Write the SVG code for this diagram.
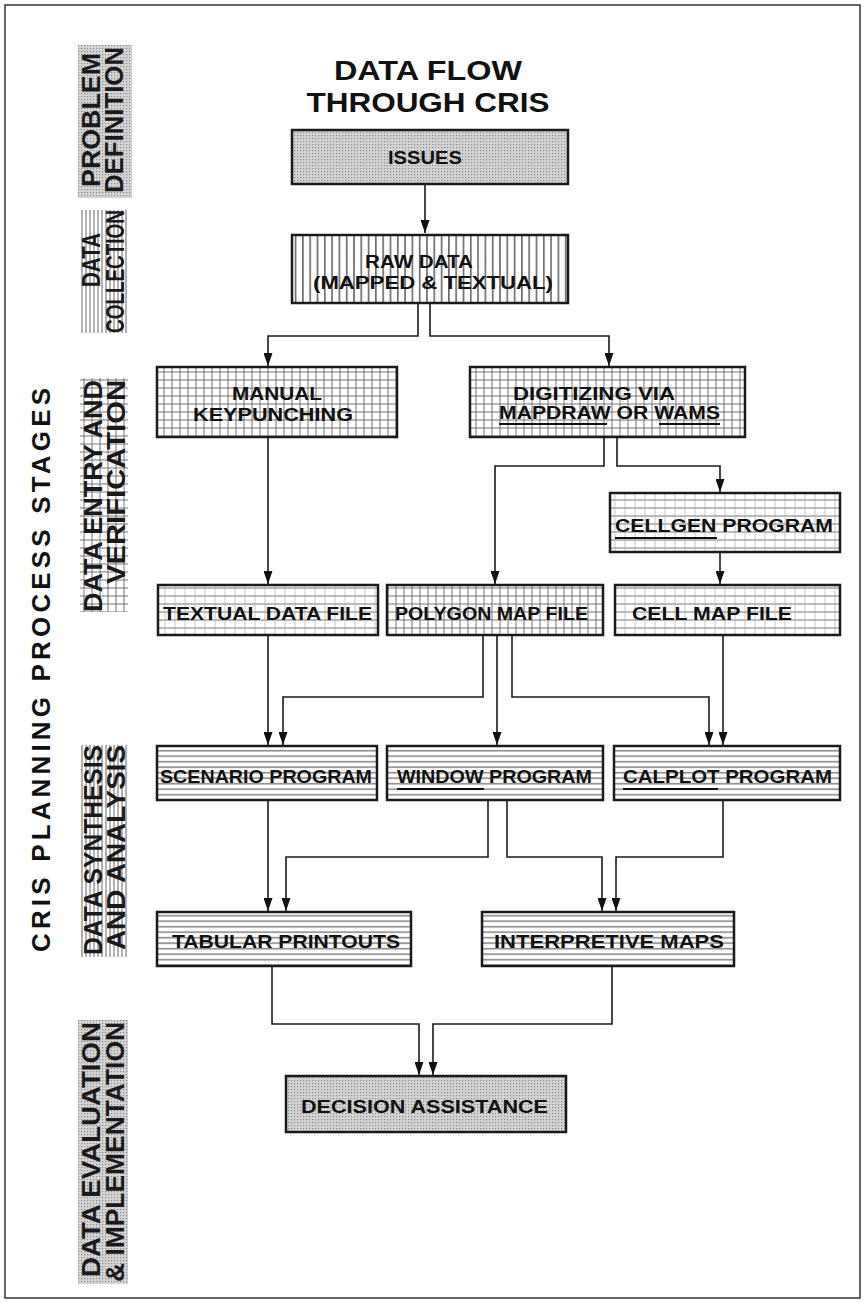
<svg xmlns="http://www.w3.org/2000/svg" width="864" height="1303" viewBox="0 0 864 1303">
<defs>
<style>
.box{stroke:#1a1a1a;stroke-width:2.5}
.bt{font-family:"Liberation Sans",Arial,sans-serif;font-weight:bold;font-size:19px;fill:#111}
.lt{font-family:"Liberation Sans",Arial,sans-serif;font-weight:bold;font-size:25px;fill:#1a1a1a}
.con{fill:none;stroke:#1a1a1a;stroke-width:1.6}
.ul{stroke:#111;stroke-width:2}
</style>
<marker id="ah" markerUnits="userSpaceOnUse" markerWidth="13" markerHeight="9" refX="13" refY="4.5" orient="auto">
<path d="M0,0 L13,4.5 L0,9 z" fill="#111"/>
</marker>
<pattern id="dots" width="3" height="3" patternUnits="userSpaceOnUse">
<rect width="3" height="3" fill="#d4d4d4"/>
<rect x="0" y="0" width="1.2" height="1.2" fill="#8a8a8a"/>
</pattern>
<pattern id="vl" width="7.3" height="10" patternUnits="userSpaceOnUse">
<rect width="7.3" height="10" fill="#fff"/>
<line x1="3.6" y1="0" x2="3.6" y2="10" stroke="#333" stroke-width="1.2"/>
</pattern>
<pattern id="grid" width="8" height="8" patternUnits="userSpaceOnUse">
<rect width="8" height="8" fill="#fff"/>
<path d="M4,0 V8 M0,4 H8" stroke="#666" stroke-width="0.9"/>
</pattern>
<pattern id="fgrid" width="10" height="8" patternUnits="userSpaceOnUse">
<rect width="10" height="8" fill="#fff"/>
<path d="M0,4 H10" stroke="#666" stroke-width="0.9"/>
<path d="M5,0 V8" stroke="#aaa" stroke-width="0.7"/>
</pattern>
<pattern id="hl" width="10" height="5.5" patternUnits="userSpaceOnUse">
<rect width="10" height="5.5" fill="#fff"/>
<line x1="0" y1="2.7" x2="10" y2="2.7" stroke="#444" stroke-width="1"/>
</pattern>
<pattern id="lvl" width="4" height="10" patternUnits="userSpaceOnUse">
<rect width="4" height="10" fill="#fff"/>
<line x1="2" y1="0" x2="2" y2="10" stroke="#555" stroke-width="0.9"/>
</pattern>
</defs>

<rect x="0" y="0" width="864" height="1303" fill="#fff"/>
<rect x="5" y="5" width="855" height="1293" fill="none" stroke="#333" stroke-width="1.5"/>

<g id="title">
<text x="428" y="80" text-anchor="middle" font-family="Liberation Sans,Arial,sans-serif" font-weight="bold" font-size="28" textLength="188" lengthAdjust="spacingAndGlyphs" fill="#111">DATA FLOW</text>
<text x="428" y="112" text-anchor="middle" font-family="Liberation Sans,Arial,sans-serif" font-weight="bold" font-size="28" textLength="243" lengthAdjust="spacingAndGlyphs" fill="#111">THROUGH CRIS</text>
</g>

<g id="stage-axis">
<text transform="translate(50,952) rotate(-90)" font-family="Liberation Sans,Arial,sans-serif" font-weight="bold" font-size="26" textLength="564" lengthAdjust="spacing" fill="#111">CRIS PLANNING PROCESS STAGES</text>
</g>

<g id="stage-problem">
<rect x="78" y="45" width="54" height="153" fill="url(#dots)"/>
<text class="lt" transform="translate(100,187) rotate(-90)" textLength="134" lengthAdjust="spacingAndGlyphs">PROBLEM</text>
<text class="lt" transform="translate(123,193) rotate(-90)" textLength="146" lengthAdjust="spacingAndGlyphs">DEFINITION</text>
</g>

<g id="stage-collection">
<rect x="80" y="210" width="48" height="123" fill="url(#lvl)"/>
<text class="lt" transform="translate(100,287) rotate(-90)" textLength="54" lengthAdjust="spacingAndGlyphs">DATA</text>
<text class="lt" transform="translate(124,333) rotate(-90)" textLength="123" lengthAdjust="spacingAndGlyphs">COLLECTION</text>
</g>

<g id="stage-entry">
<rect x="80" y="378" width="48" height="234" fill="url(#grid)"/>
<text class="lt" transform="translate(102,612) rotate(-90)" textLength="232" lengthAdjust="spacingAndGlyphs">DATA ENTRY AND</text>
<text class="lt" transform="translate(125,584) rotate(-90)" textLength="204" lengthAdjust="spacingAndGlyphs">VERIFICATION</text>
</g>

<g id="stage-synthesis">
<rect x="80" y="745" width="48" height="212" fill="url(#lvl)"/>
<text class="lt" transform="translate(102,955) rotate(-90)" textLength="210" lengthAdjust="spacingAndGlyphs">DATA SYNTHESIS</text>
<text class="lt" transform="translate(125,950) rotate(-90)" textLength="205" lengthAdjust="spacingAndGlyphs">AND ANALYSIS</text>
</g>

<g id="stage-evaluation">
<rect x="78" y="1020" width="50" height="264" fill="url(#dots)"/>
<text class="lt" transform="translate(100,1277) rotate(-90)" textLength="255" lengthAdjust="spacingAndGlyphs">DATA EVALUATION</text>
<text class="lt" transform="translate(124,1282) rotate(-90)" textLength="260" lengthAdjust="spacingAndGlyphs">&amp; IMPLEMENTATION</text>
</g>

<g id="connectors">
<path class="con" marker-end="url(#ah)" d="M425,184 V233"/>
<path class="con" marker-end="url(#ah)" d="M418,303 V336 H268 V366"/>
<path class="con" marker-end="url(#ah)" d="M430,303 V336 H609 V366"/>
<path class="con" marker-end="url(#ah)" d="M268,437 V584"/>
<path class="con" marker-end="url(#ah)" d="M604,437 V466 H495 V584"/>
<path class="con" marker-end="url(#ah)" d="M617,437 V466 H720 V492"/>
<path class="con" marker-end="url(#ah)" d="M720,552 V584"/>
<path class="con" marker-end="url(#ah)" d="M268,635 V745"/>
<path class="con" marker-end="url(#ah)" d="M483,635 V697 H283 V745"/>
<path class="con" marker-end="url(#ah)" d="M497,635 V745"/>
<path class="con" marker-end="url(#ah)" d="M512,635 V697 H709 V745"/>
<path class="con" marker-end="url(#ah)" d="M723,635 V745"/>
<path class="con" marker-end="url(#ah)" d="M268,800 V911"/>
<path class="con" marker-end="url(#ah)" d="M488,800 V857 H286 V911"/>
<path class="con" marker-end="url(#ah)" d="M507,800 V857 H602 V911"/>
<path class="con" marker-end="url(#ah)" d="M723,800 V857 H616 V911"/>
<path class="con" marker-end="url(#ah)" d="M272,966 V1024 H419 V1075"/>
<path class="con" marker-end="url(#ah)" d="M612,966 V1024 H433 V1075"/>
</g>

<g id="issues">
<rect class="box" x="292" y="130" width="276" height="54" fill="url(#dots)"/>
<text class="bt" x="425" y="164" text-anchor="middle" textLength="74" lengthAdjust="spacingAndGlyphs">ISSUES</text>
</g>

<g id="raw-data">
<rect class="box" x="292" y="235" width="276" height="68" fill="url(#vl)"/>
<text class="bt" x="419" y="268" text-anchor="middle" textLength="108" lengthAdjust="spacingAndGlyphs">RAW DATA</text>
<text class="bt" x="433" y="289" text-anchor="middle" textLength="240" lengthAdjust="spacingAndGlyphs">(MAPPED &amp; TEXTUAL)</text>
</g>

<g id="manual-keypunching">
<rect class="box" x="157" y="367" width="240" height="70" fill="url(#grid)"/>
<text class="bt" x="277" y="400" text-anchor="middle" textLength="90" lengthAdjust="spacingAndGlyphs">MANUAL</text>
<text class="bt" x="273" y="421" text-anchor="middle" textLength="160" lengthAdjust="spacingAndGlyphs">KEYPUNCHING</text>
</g>

<g id="digitizing">
<rect class="box" x="470" y="367" width="275" height="70" fill="url(#grid)"/>
<text class="bt" x="513" y="400" textLength="162" lengthAdjust="spacingAndGlyphs">DIGITIZING VIA</text>
<text class="bt" x="499" y="419" textLength="221" lengthAdjust="spacingAndGlyphs">MAPDRAW OR WAMS</text>
<line class="ul" x1="499" y1="424" x2="607" y2="424"/>
<line class="ul" x1="659" y1="424" x2="720" y2="424"/>
</g>

<g id="cellgen-program">
<rect class="box" x="610" y="493" width="230" height="59" fill="url(#fgrid)"/>
<text class="bt" x="615" y="532" textLength="218" lengthAdjust="spacingAndGlyphs">CELLGEN PROGRAM</text>
<line class="ul" x1="615" y1="538" x2="717" y2="538"/>
</g>

<g id="textual-data-file">
<rect class="box" x="158" y="585" width="220" height="50" fill="url(#fgrid)"/>
<text class="bt" x="163" y="620" textLength="209" lengthAdjust="spacingAndGlyphs">TEXTUAL DATA FILE</text>
</g>

<g id="polygon-map-file">
<rect class="box" x="387" y="585" width="216" height="50" fill="url(#grid)"/>
<text class="bt" x="395" y="620" textLength="193" lengthAdjust="spacingAndGlyphs">POLYGON MAP FILE</text>
</g>

<g id="cell-map-file">
<rect class="box" x="615" y="585" width="225" height="50" fill="url(#fgrid)"/>
<text class="bt" x="632" y="620" textLength="160" lengthAdjust="spacingAndGlyphs">CELL MAP FILE</text>
</g>

<g id="scenario-program">
<rect class="box" x="157" y="746" width="220" height="54" fill="url(#hl)"/>
<text class="bt" x="160" y="783" textLength="212" lengthAdjust="spacingAndGlyphs">SCENARIO PROGRAM</text>
</g>

<g id="window-program">
<rect class="box" x="387" y="746" width="216" height="54" fill="url(#hl)"/>
<text class="bt" x="397" y="783" textLength="195" lengthAdjust="spacingAndGlyphs">WINDOW PROGRAM</text>
<line class="ul" x1="397" y1="789" x2="484" y2="789"/>
</g>

<g id="calplot-program">
<rect class="box" x="614" y="746" width="226" height="54" fill="url(#hl)"/>
<text class="bt" x="623" y="783" textLength="209" lengthAdjust="spacingAndGlyphs">CALPLOT PROGRAM</text>
<line class="ul" x1="623" y1="789" x2="718" y2="789"/>
</g>

<g id="tabular-printouts">
<rect class="box" x="157" y="912" width="254" height="54" fill="url(#hl)"/>
<text class="bt" x="172" y="948" textLength="228" lengthAdjust="spacingAndGlyphs">TABULAR PRINTOUTS</text>
</g>

<g id="interpretive-maps">
<rect class="box" x="482" y="912" width="252" height="54" fill="url(#hl)"/>
<text class="bt" x="494" y="948" textLength="230" lengthAdjust="spacingAndGlyphs">INTERPRETIVE MAPS</text>
</g>

<g id="decision-assistance">
<rect class="box" x="286" y="1076" width="280" height="56" fill="url(#dots)"/>
<text class="bt" x="301" y="1113" textLength="247" lengthAdjust="spacingAndGlyphs">DECISION ASSISTANCE</text>
</g>
</svg>
